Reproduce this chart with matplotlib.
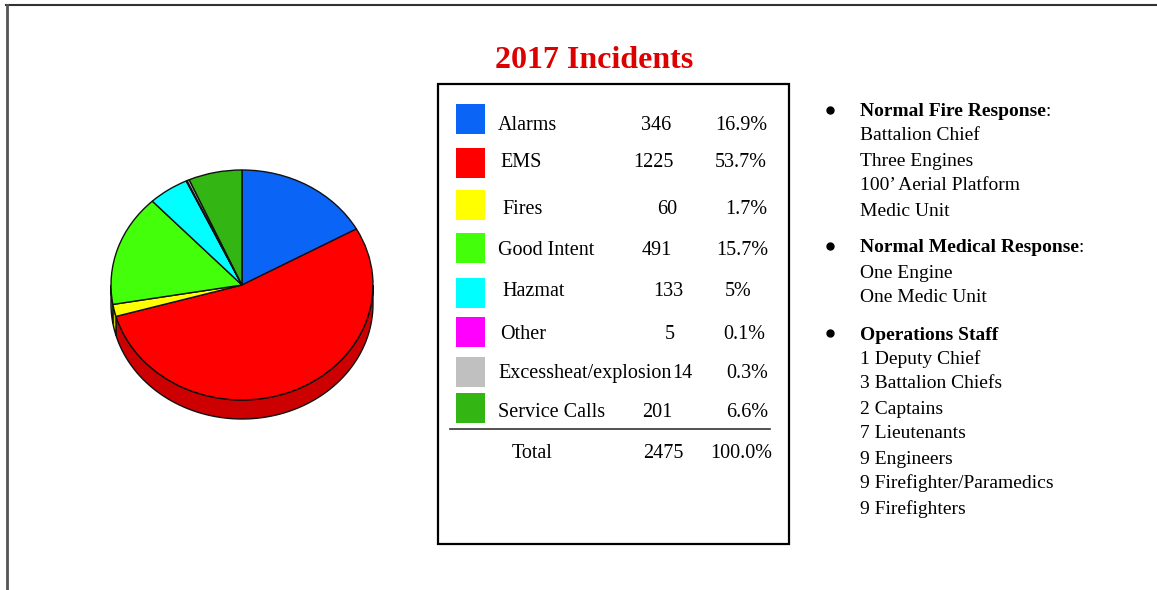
import matplotlib
matplotlib.use('Agg')
import matplotlib.pyplot as plt
import numpy as np
from matplotlib.patches import Polygon, Rectangle
from matplotlib.transforms import Affine2D
from matplotlib.colors import to_rgb
from matplotlib.lines import Line2D

# ---------------- data ----------------
categories = ['Alarms', 'EMS', 'Fires', 'Good Intent', 'Hazmat', 'Other',
              'Excessheat/explosion', 'Service Calls']
counts = [346, 1225, 60, 491, 133, 5, 14, 201]
percents = [16.9, 53.7, 1.7, 15.7, 5, 0.1, 0.3, 6.6]
pct_labels = ['16.9%', '53.7%', '1.7%', '15.7%', '5%', '0.1%', '0.3%', '6.6%']
total_count = 2475
total_pct = '100.0%'
colors = ['#0a64f5', '#ff0000', '#ffff00', '#44ff0a', '#00ffff', '#ff00ff',
          '#c0c0c0', '#33b514']

fire_items = ['Battalion Chief', 'Three Engines', '100\u2019 Aerial Platform', 'Medic Unit']
medical_items = ['One Engine', 'One Medic Unit']
staff_items = ['1 Deputy Chief', '3 Battalion Chiefs', '2 Captains', '7 Lieutenants',
               '9 Engineers', '9 Firefighter/Paramedics', '9 Firefighters']

# ---------------- figure ----------------
W, H = 1157, 590
fig = plt.figure(figsize=(W / 100, H / 100), dpi=100)
ax = fig.add_axes([0, 0, 1, 1])
SERIF = ['Liberation Serif', 'DejaVu Serif']


def Y(y):
    return H - y


# ---------------- 3D-ish pie ----------------
cx, cy = 242, Y(285)
rx, ry = 131, 115
depth = 19

wedges, _ = ax.pie(percents, colors=colors, startangle=90, counterclock=False,
                   radius=1, wedgeprops=dict(edgecolor='#111111', linewidth=1))
tr = Affine2D().scale(rx, ry).translate(cx, cy) + ax.transData
for w in wedges:
    w.set_transform(tr)
    w.set_zorder(3)
    # visible side part: angles within [-180, 0]
    a = max(w.theta1, -180)
    b = min(w.theta2, 0)
    if b > a:
        th = np.radians(np.linspace(a, b, 80))
        xs = cx + rx * np.cos(th)
        ys = cy + ry * np.sin(th)
        pts = np.column_stack([np.concatenate([xs, xs[::-1]]),
                               np.concatenate([ys, ys[::-1] - depth])])
        side = tuple(c * 0.8 for c in to_rgb(w.get_facecolor()))
        ax.add_patch(Polygon(pts, closed=True, facecolor=side, edgecolor='#111111',
                             linewidth=1, zorder=2))

ax.set_xlim(0, W)
ax.set_ylim(0, H)
ax.set_aspect('auto')
ax.axis('off')

# ---------------- outer frame ----------------
ax.add_line(Line2D([6, W], [Y(5), Y(5)], color='#333333', lw=1.5))
ax.add_line(Line2D([7, 7], [Y(5), 0], color='#555555', lw=2))

# ---------------- title ----------------
ax.text(594, Y(60), '2017 Incidents', color='#dd0000', fontsize=23,
        fontweight='bold', family=SERIF, ha='center', va='center')

# ---------------- table ----------------
ax.add_patch(Rectangle((438, Y(544)), 351, 460, fill=False, edgecolor='black', lw=1.6))

sq_tops = [104, 148, 190, 233, 278, 317, 357, 393]
text_y = [123, 160, 207, 248, 289, 332, 371, 410]
label_x = [498, 500, 502, 498, 502, 500, 498, 498]
num_x = [671, 674, 677, 672, 683, 675, 692, 672]
pct_x = [767, 767, 767, 768, 752, 765, 768, 768]
FS = 14.5
off = 7

for i, cat in enumerate(categories):
    ax.add_patch(Rectangle((456, Y(sq_tops[i] + 30)), 29, 30, facecolor=colors[i],
                           edgecolor='none'))
    ax.text(label_x[i], Y(text_y[i] + off), cat, fontsize=FS, family=SERIF,
            ha='left', va='baseline')
    ax.text(num_x[i], Y(text_y[i] + off), str(counts[i]), fontsize=FS, family=SERIF,
            ha='right', va='baseline')
    ax.text(pct_x[i], Y(text_y[i] + off), pct_labels[i], fontsize=FS, family=SERIF,
            ha='right', va='baseline')

ax.add_line(Line2D([450, 770], [Y(429), Y(429)], color='#333333', lw=1.2))
ax.text(512, Y(451 + off), 'Total', fontsize=FS, family=SERIF, ha='left', va='baseline')
ax.text(683, Y(451 + off), str(total_count), fontsize=FS, family=SERIF, ha='right',
        va='baseline')
ax.text(772, Y(451 + off), total_pct, fontsize=FS, family=SERIF, ha='right',
        va='baseline')

# ---------------- right column ----------------
renderer = fig.canvas.get_renderer()
RFS = 14
roff = 6.5
bx, tx = 830, 860


def heading(y, txt, colon):
    ax.plot([bx], [Y(y)], marker='o', markersize=5, color='black', linestyle='none')
    t = ax.text(tx, Y(y + roff), txt, fontsize=RFS, family=SERIF, fontweight='bold',
                ha='left', va='baseline')
    if colon:
        ext = t.get_window_extent(renderer)
        ax.text(ext.x1 - 0.5, Y(y + roff), ':', fontsize=RFS, family=SERIF, ha='left',
                va='baseline')


def items(y0, lst):
    for k, s in enumerate(lst):
        ax.text(tx, Y(y0 + 25 * k + roff), s, fontsize=RFS, family=SERIF, ha='left',
                va='baseline')


heading(110, 'Normal Fire Response', True)
items(134, fire_items)
heading(246, 'Normal Medical Response', True)
items(271, medical_items)
heading(333, 'Operations Staff', False)
items(357, staff_items)

fig.savefig('out.png', dpi=100)
